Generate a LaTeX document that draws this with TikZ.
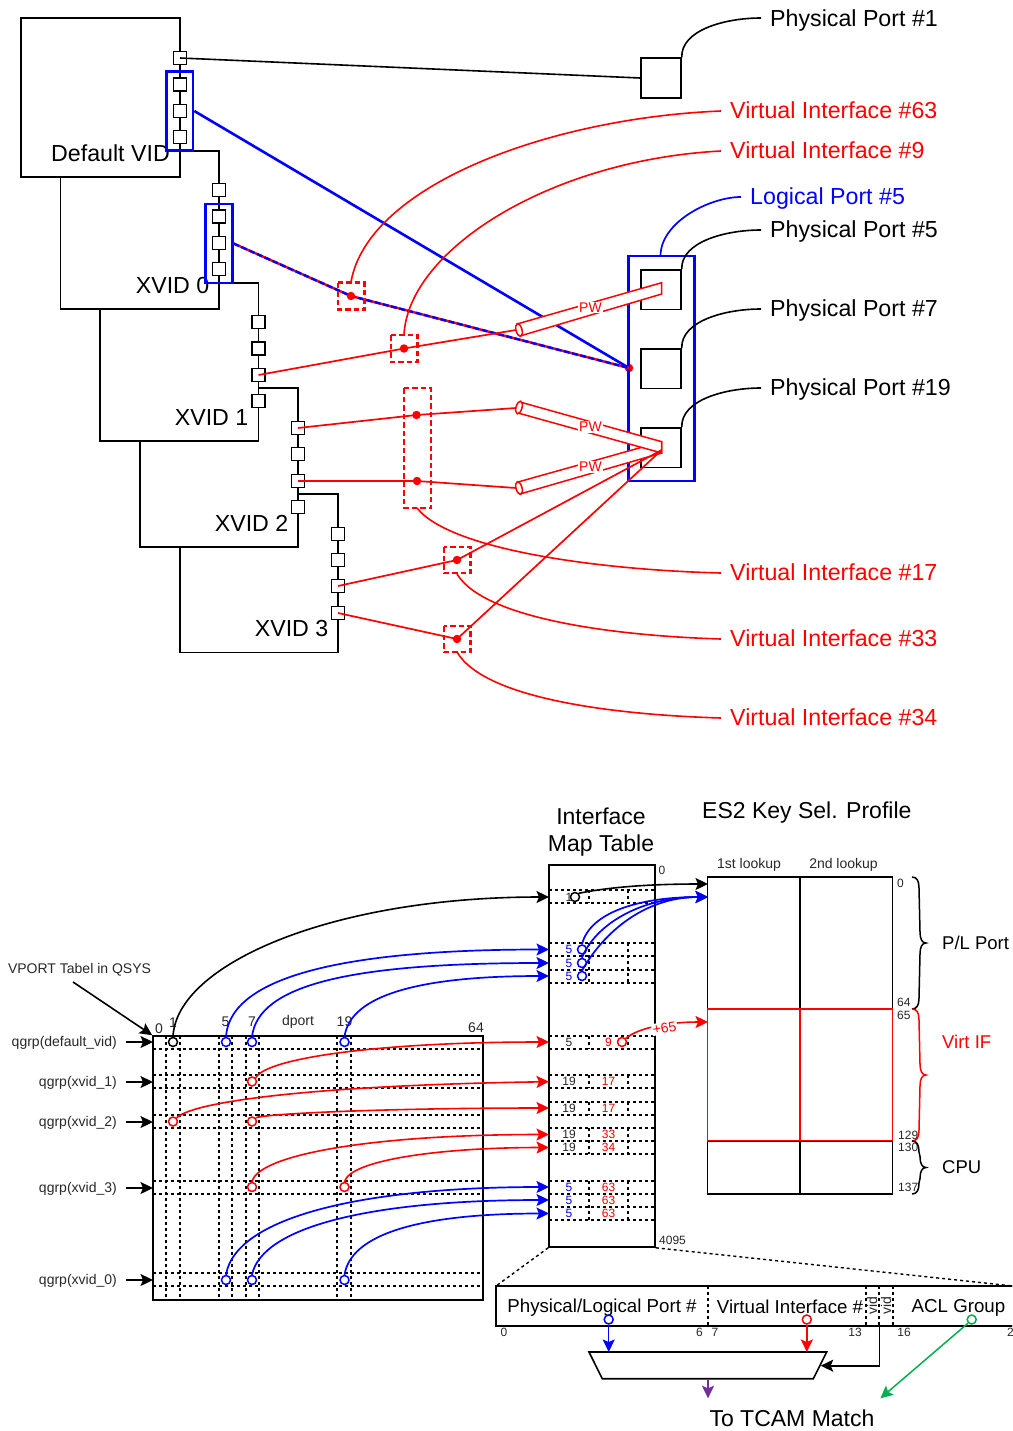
\documentclass[tikz,border=0pt]{standalone}
\usepackage{fontspec}
\setmainfont{Liberation Sans}
\usetikzlibrary{arrows.meta,calc}
\definecolor{pred}{RGB}{255,0,0}
\definecolor{pblue}{RGB}{0,0,255}
\definecolor{pgreen}{RGB}{0,176,80}
\definecolor{ppurple}{RGB}{112,48,160}
\definecolor{dtext}{RGB}{40,40,40}
\tikzset{
  blk/.style={draw=black,line width=1.6pt},
  sq/.style={draw=black,line width=1.6pt,fill=white,minimum size=13pt,inner sep=0pt},
  reddash/.style={draw=pred,line width=2.8pt,dash pattern=on 5.5pt off 3pt},
  dot/.style={circle,fill=pred,minimum size=8.5pt,inner sep=0pt},
  ringn/.style={circle,draw=#1,line width=1.5pt,minimum size=9pt,inner sep=0pt},
  big/.style={font=\fontsize{23}{27}\selectfont,inner sep=0pt},
  bigm/.style={font=\fontsize{23.2}{27}\selectfont,inner sep=0pt,yshift=-6pt},
  mid18/.style={font=\fontsize{18.5}{22}\selectfont,inner sep=0pt,yshift=-4pt},
  mid19/.style={font=\fontsize{18.7}{23}\selectfont,inner sep=0pt},
  sm14/.style={font=\fontsize{14}{16}\selectfont,inner sep=0pt,text=dtext,yshift=-1pt},
  sm14m/.style={font=\fontsize{14}{16}\selectfont,inner sep=0pt,text=dtext,yshift=-2pt},
  sm12/.style={font=\fontsize{12}{14}\selectfont,inner sep=0pt,text=dtext},
  sm12m/.style={font=\fontsize{12}{14}\selectfont,inner sep=0pt,text=dtext,yshift=-2pt},
  rline/.style={draw=pred,line width=1.7pt},
  curveb/.style={draw=black,line width=1.6pt},
  curver/.style={draw=pred,line width=1.6pt},
  curvel/.style={draw=pblue,line width=1.7pt},
  tipk/.style={-{Stealth[length=12.5pt,width=12pt,inset=2.5pt]}},
  griddash/.style={draw=black,line width=1.4pt,dash pattern=on 3pt off 3pt},
  pipe/.style={draw=pred,line width=1.5pt,fill=white},
  pwlab/.style={font=\fontsize{14}{16}\selectfont,text=pred,fill=white,inner sep=1pt},
}
\newcommand{\vbrace}[3]{%
  \pgfmathsetmacro{\ymid}{(#1+#2)/2}%
  \draw[draw=#3,line width=1.5pt] (912,#1) .. controls (917,#1) and (919,#1+4) .. (919,#1+11)
    -- (920,\ymid-11) .. controls (920,\ymid-4) and (922,\ymid) .. (926,\ymid)
    .. controls (922,\ymid) and (920,\ymid+4) .. (920,\ymid+11)
    -- (919,#2-11) .. controls (919,#2-4) and (917,#2) .. (912,#2);}
\begin{document}
\begin{tikzpicture}[x=1pt,y=-1pt]
\clip (0,0) rectangle (1012,1431);
\fill[white] (0,0) rectangle (1012,1431);
%%%%% TOP PART: stacked VID boxes
\draw[blk] (21,18) rectangle (180,177);
\draw[blk] (60.5,177) -- (60.5,309) -- (219,309) -- (219,151) -- (193,151);
\draw[blk] (100,309) -- (100,441) -- (258.5,441) -- (258.5,283) -- (232,283);
\draw[blk] (140,441) -- (140,547) -- (298,547) -- (298,388) -- (258.5,388);
\draw[blk] (180,547) -- (180,652.5) -- (338,652.5) -- (338,494) -- (298,494);
\node[sq] (da) at (180,58) {};
\node[sq] (db) at (180,84.5) {};
\node[sq] (dc) at (180,111) {};
\node[sq] (dd) at (180,137) {};
\node[sq] (za) at (219,190) {};
\node[sq] (zb) at (219,216.5) {};
\node[sq] (zc) at (219,243) {};
\node[sq] (zd) at (219,269) {};
\node[sq] (oa) at (258.5,322) {};
\node[sq] (ob) at (258.5,348.5) {};
\node[sq] (oc) at (258.5,375) {};
\node[sq] (od) at (258.5,401) {};
\node[sq] (ta) at (298,428) {};
\node[sq] (tb) at (298,454) {};
\node[sq] (tc) at (298,481) {};
\node[sq] (td) at (298,507) {};
\node[sq] (ha) at (338,534) {};
\node[sq] (hb) at (338,560) {};
\node[sq] (hc) at (338,586) {};
\node[sq] (hd) at (338,613) {};
\node[bigm,anchor=mid east] (ldv) at (170,152.5) {Default VID};
\node[bigm,anchor=mid east] (lx0) at (209.5,284.5) {XVID 0};
\node[bigm,anchor=mid east] (lx1) at (248.5,416.5) {XVID 1};
\node[bigm,anchor=mid east] (lx2) at (288.5,522.5) {XVID 2};
\node[bigm,anchor=mid east] (lx3) at (328.5,627.5) {XVID 3};
\node[draw=pblue,line width=2.6pt,minimum width=26.5pt,minimum height=79pt,inner sep=0pt] (bga) at (179.75,111) {};
\node[draw=pblue,line width=2.6pt,minimum width=26.5pt,minimum height=79pt,inner sep=0pt] (bgb) at (219,243.5) {};
%%%%% physical ports
\node[draw=black,line width=1.5pt,minimum width=40pt,minimum height=40pt,inner sep=0pt,fill=white] (p1) at (661,78) {};
\node[draw=black,line width=1.5pt,minimum width=40pt,minimum height=39.5pt,inner sep=0pt,fill=white] (p5) at (661,289.5) {};
\node[draw=black,line width=1.5pt,minimum width=40pt,minimum height=39.5pt,inner sep=0pt,fill=white] (p7) at (661,368.5) {};
\node[draw=black,line width=1.5pt,minimum width=40pt,minimum height=39.5pt,inner sep=0pt,fill=white] (p19) at (661,447.5) {};
\node[dot] (hub) at (629,368) {};
\node[draw=pblue,line width=2.6pt,minimum width=65.5pt,minimum height=225pt,inner sep=0pt] (lag) at (661.5,368.5) {};
\draw[curveb] (da.center) -- (p1.west);
\foreach \nm/\txt/\yy in {n1/{Physical Port \#1}/18, n5/{Physical Port \#5}/229, n7/{Physical Port \#7}/308, n19/{Physical Port \#19}/387}{
  \node[bigm,anchor=mid west] (\nm) at (770,\yy) {\txt};
}
\coordinate (e1) at (761,18);\coordinate (e5) at (761,230);\coordinate (e7) at (761,309);\coordinate (e19) at (761,388);
\draw[curveb] (p1.north east) .. controls (681,30) and (725,18) .. (e1);
\draw[curveb] (p5.north east) .. controls (681,242) and (725,230) .. (e5);
\draw[curveb] (p7.north east) .. controls (681,321) and (725,309) .. (e7);
\draw[curveb] (p19.north east) .. controls (681,400) and (725,388) .. (e19);
\node[bigm,anchor=mid west,text=pblue] (nlp) at (750,196) {Logical Port \#5};
\coordinate (elp) at (741,197);
\draw[curvel] (660.5,256) .. controls (660.5,222) and (710,197) .. (elp);
%%%%% blue trunk lines
\coordinate (bend) at (351,296);
\draw[draw=pblue,line width=2.6pt] (bga.east) -- (hub.center);
\draw[draw=pred,line width=2.4pt] (bgb.east) -- (bend) -- (hub.center);
\draw[draw=pblue,line width=2.4pt,dash pattern=on 6pt off 2.5pt] (bgb.east) -- (bend) -- (hub.center);
%%%%% PW tunnels
\draw[pipe] (518,482) -- (661.7,441.7) -- (661.7,453) -- (520,494) -- cycle;
\draw[pipe,rotate around={15:(519,488)}] (519,488) ellipse (3pt and 6.5pt);
\draw[pipe] (520,402) -- (661.7,441.7) -- (661.7,453) -- (518,413) -- cycle;
\draw[pipe,rotate around={-15:(519,407.5)}] (519,407.5) ellipse (3pt and 6.5pt);
\draw[pipe] (517,324) -- (661.7,282.7) -- (661.7,294) -- (520,336) -- cycle;
\draw[pipe,rotate around={15:(519,330)}] (519,330) ellipse (3pt and 6.5pt);
\node[pwlab] (pw1) at (590.5,307.5) {PW};
\node[pwlab] (pw2) at (590.5,427) {PW};
\node[pwlab] (pw3) at (590.5,467) {PW};
%%%%% virtual interfaces
\node[dot] (v63) at (351,296) {};
\node[dot] (v9) at (404,348.5) {};
\node[dot] (v17a) at (416.5,415) {};
\node[dot] (v17b) at (417,481) {};
\node[dot] (v33) at (457,560) {};
\node[dot] (v34) at (457,639) {};
\draw[reddash] (338,282.5) rectangle (364.5,309.5);
\draw[reddash] (391,335) rectangle (417.5,362);
\draw[reddash] (404,388) rectangle (431,508);
\draw[reddash] (444,547) rectangle (470.5,573);
\draw[reddash] (444,626) rectangle (470.5,652);
\coordinate (tipa) at (661.7,450);
\coordinate (pa) at (516,330);\coordinate (pb) at (516,408);\coordinate (pc) at (516,488);
\draw[rline] (oc.center) -- (v9.center) -- (pa);
\draw[rline] (ta.center) -- (v17a.center) -- (pb);
\draw[rline] (tc.center) -- (v17b.center) -- (pc);
\draw[rline] (hc.center) -- (v33.center) -- (tipa);
\draw[rline] (hd.center) -- (v34.center) -- (tipa);
\foreach \nm/\txt/\yy in {i63/{Virtual Interface \#63}/110, i9/{Virtual Interface \#9}/150, i17/{Virtual Interface \#17}/572, i33/{Virtual Interface \#33}/638, i34/{Virtual Interface \#34}/717}{
  \node[bigm,anchor=mid west,text=pred] (\nm) at (730,\yy) {\txt};
}
\coordinate (c63) at (721,111);\coordinate (c9) at (721,151);\coordinate (c17) at (721,573);\coordinate (c33) at (721,639);\coordinate (c34) at (721,718);
\draw[curver] (351,282) .. controls (368,185) and (550,118) .. (c63);
\draw[curver] (404,335) .. controls (408,250) and (550,160) .. (c9);
\draw[curver] (417,508) .. controls (450,550) and (600,570) .. (c17);
\draw[curver] (457,574) .. controls (485,620) and (620,636) .. (c33);
\draw[curver] (457,652) .. controls (485,700) and (620,715) .. (c34);
%%%%% VPORT TABLE
\foreach \yy in {1049,1075,1088,1115,1128,1181,1194,1273,1286}{
  \draw[griddash] (153,\yy) -- (483,\yy);
}
\foreach \xx in {166,180,219,232,246,259,337,351}{
  \draw[griddash] (\xx,1036) -- (\xx,1300);
}
\node[draw=black,line width=1.6pt,minimum width=330pt,minimum height=264pt,inner sep=0pt] (vt) at (318,1168) {};
\draw[griddash] (153,1036) -- (483,1036);
\node[sm14] (h0) at (159,1028) {0};
\node[sm14] (h1) at (173,1022) {1};
\node[sm14] (h5) at (225.5,1021) {5};
\node[sm14] (h7) at (252,1021) {7};
\node[sm14] (hdp) at (298,1021) {dport};
\node[sm14] (h19) at (344.5,1021) {19};
\node[sm14] (h64) at (476,1027) {64};
\node[sm14] (lvp) at (79.5,969) {VPORT Tabel in QSYS};
\coordinate (vpstart) at (73,982);
\draw[curveb,tipk] (vpstart) -- (vt.north west);
\foreach \nm/\txt/\yy in {q0/{qgrp(default\_vid)}/1042, q1/{qgrp(xvid\_1)}/1082, q2/{qgrp(xvid\_2)}/1122, q3/{qgrp(xvid\_3)}/1188, q4/{qgrp(xvid\_0)}/1280}{
  \node[sm14m,anchor=mid east] (\nm) at (117,\yy) {\txt};
  \coordinate (\nm s) at (126,\yy);
  \coordinate (\nm e) at (153,\yy);
  \draw[curveb,tipk] (\nm s) -- (\nm e);
}
%%%%% INTERFACE MAP TABLE
\foreach \yy in {890,903,943,956,970,983,1036,1049,1075,1088,1102,1115,1128,1141,1154,1181,1194,1207,1220}{
  \draw[griddash] (549,\yy) -- (655,\yy);
}
\foreach \ya/\yb in {890/903,943/983,1036/1049,1075/1088,1102/1115,1128/1154,1181/1220}{
  \draw[griddash] (589,\ya) -- (589,\yb);
  \draw[griddash] (628,\ya) -- (628,\yb);
}
\node[draw=black,line width=1.6pt,minimum width=106pt,minimum height=382pt,inner sep=0pt] (imt) at (602,1056) {};
\node[big,align=center] (limt) at (601,832) {Interface\\Map Table};
\node[big,anchor=mid west,yshift=-6pt] (les2) at (702,810) {ES2 Key Sel. Profile};
\node[sm12] (i0) at (662,870) {0};
\node[sm12] (i4095) at (672.5,1240) {4095};
\foreach \nm/\yy/\cc/\tt in {ra/949.5/pblue/5,rb/963/pblue/5,rc/976/pblue/5,rd/1042/dtext/5,re/1081.7/dtext/19,rf/1108/dtext/19,rg/1134/dtext/19,rh/1147/dtext/19,ri/1187/pblue/5,rj/1200/pblue/5,rk/1213.5/pblue/5}{
  \node[sm12,text=\cc] (\nm) at (569,\yy) {\tt};
}
\node[sm12] (r1) at (569,897) {1};
\foreach \nm/\yy/\tt in {sb/1081.7/17,sc/1108/17,sd/1134/33,se/1147/34,sf/1187/63,sg/1200/63,sh/1213.5/63}{
  \node[sm12,text=pred] (\nm) at (608.5,\yy) {\tt};
}
\node[sm12,text=pred] (sa) at (608.5,1042) {9};
%%%%% PROFILE
\node[draw=black,line width=1.6pt,minimum width=185pt,minimum height=317pt,inner sep=0pt] (prof) at (800,1035.5) {};
\draw[blk] (800,877) -- (800,1194);
\node[draw=pred,line width=1.6pt,minimum width=185pt,minimum height=132pt,inner sep=0pt] (virt) at (800,1075) {};
\draw[draw=pred,line width=1.6pt] (virt.north) -- (virt.south);
\draw[blk,line width=1pt] (707.5,1141) -- (892.5,1141);
\node[sm14] (l1) at (749,864) {1st lookup};
\node[sm14] (l2) at (843.5,864) {2nd lookup};
\foreach \nm/\xx/\yy/\tt in {k0/897/883/0,k64/897/1002/64,k65/897/1015/65,k129/898/1134.5/129,k130/898/1147/130,k137/898/1187/137}{
  \node[sm12m,anchor=mid west] (\nm) at (\xx,\yy) {\tt};
}
\vbrace{877}{1009}{black}
\vbrace{1009}{1141}{pred}
\vbrace{1141}{1194}{black}
\node[mid18,anchor=mid west] (bpl) at (942,943) {P/L Port};
\node[mid18,anchor=mid west,text=pred] (bvi) at (942,1042) {Virt IF};
\node[mid18,anchor=mid west] (bcp) at (942,1167) {CPU};
%%%%% rings and curves
\coordinate (t1) at (549,897);
\coordinate (ta5) at (549,949.5);\coordinate (tb5) at (549,963);\coordinate (tc5) at (549,976);
\coordinate (trd) at (549,1042);\coordinate (tre) at (549,1081.7);\coordinate (trf) at (549,1108);
\coordinate (trg) at (549,1134.5);\coordinate (trh) at (549,1147.5);
\coordinate (tri) at (549,1187);\coordinate (trj) at (549,1200);\coordinate (trk) at (549,1213.5);
\coordinate (pfk) at (708,884);\coordinate (pfb) at (708,897);\coordinate (pfr) at (708,1022);
\node[ringn=black] (ca) at (173,1042) {};
\node[ringn=pblue] (cb) at (226,1042) {};
\node[ringn=pblue] (cc) at (252,1042) {};
\node[ringn=pblue] (cd) at (344.5,1042) {};
\node[ringn=pred] (ce) at (252,1081.5) {};
\node[ringn=pred] (cf) at (173,1121.5) {};
\node[ringn=pred] (cg) at (252,1121.5) {};
\node[ringn=pred] (ch) at (252,1187) {};
\node[ringn=pred] (ci) at (344.5,1187) {};
\node[ringn=pblue] (cj) at (226,1280) {};
\node[ringn=pblue] (ck) at (252,1280) {};
\node[ringn=pblue] (cl) at (344.5,1280) {};
\node[ringn=black] (ma) at (575,897) {};
\node[ringn=pblue] (mb) at (582,949.5) {};
\node[ringn=pblue] (mc) at (582,963) {};
\node[ringn=pblue] (md) at (582,976) {};
\node[ringn=pred] (me) at (622,1042) {};
\draw[curveb,tipk] (ca.north) .. controls (176,965) and (330,897) .. (t1);
\draw[curvel,tipk] (cb.north) .. controls (230,975) and (350,949.5) .. (ta5);
\draw[curvel,tipk] (cc.north) .. controls (258,985) and (350,963) .. (tb5);
\draw[curvel,tipk] (cd.north) .. controls (350,995) and (420,976) .. (tc5);
\draw[curver,tipk] (ce.north east) .. controls (266,1058) and (380,1042) .. (trd);
\draw[curver,tipk] (cf.north east) .. controls (195,1100) and (330,1085) .. (tre);
\draw[curver,tipk] (cg.north east) .. controls (270,1113) and (400,1108) .. (trf);
\draw[curver,tipk] (ch.north) .. controls (258,1155) and (370,1134.5) .. (trg);
\draw[curver,tipk] (ci.north) .. controls (350,1160) and (440,1147.5) .. (trh);
\draw[curvel,tipk] (cj.north) .. controls (236,1215) and (370,1187) .. (tri);
\draw[curvel,tipk] (ck.north) .. controls (262,1227) and (370,1200) .. (trj);
\draw[curvel,tipk] (cl.north) .. controls (352,1228) and (440,1213.5) .. (trk);
\draw[curveb,tipk] (ma.north east) .. controls (610,887) and (650,884) .. (pfk);
\draw[curvel,tipk] (mb.north) .. controls (590,912) and (640,897) .. (pfb);
\draw[curvel,tipk] (mc.north) .. controls (595,925) and (640,897) .. (pfb);
\draw[curvel,tipk] (md.north) .. controls (600,938) and (640,897) .. (pfb);
\draw[curver,tipk] (me.north east) .. controls (640,1027) and (670,1022) .. (pfr);
\node[font=\fontsize{14}{16}\selectfont,text=pred,fill=white,inner sep=1pt,rotate=10] (p65) at (664.5,1028) {+65};
%%%%% FIELD
\coordinate (fr1) at (1013,1286);
\coordinate (fr2) at (1013,1326);
\draw[griddash] (imt.south west) -- (496,1286);
\draw[griddash] (imt.south east) -- (fr1);
\draw[blk] (1013,1286) -- (496,1286) -- (496,1326) -- (1013,1326);
\draw[griddash] (496,1286) -- (fr1);
\draw[griddash] (496,1326) -- (fr2);
\foreach \xx in {708,866,879,893}{
  \draw[griddash] (\xx,1286) -- (\xx,1326);
}
\node[mid19] (f1) at (602,1308) {Physical/Logical Port \#};
\node[mid19] (f2) at (790,1307) {Virtual Interface \#};
\node[mid19] (f3) at (958.5,1307.5) {ACL Group};
\node[sm14,rotate=90] (f4) at (872,1305) {vid};
\node[sm14,rotate=90] (f5) at (886,1305) {vid};
\foreach \nm/\xx/\tt in {g0/504/0,g6/699.5/6,g7/715/7,g13/855/13,g16/904/16,g2/1010.5/2}{
  \node[sm12] (\nm) at (\xx,1332) {\tt};
}
\node[ringn=pblue] (fb) at (608.7,1319.5) {};
\node[ringn=pred] (fr) at (806.8,1319.5) {};
\node[ringn=pgreen] (fg) at (971.7,1319.5) {};
\coordinate (muxb) at (608.7,1352);
\coordinate (muxr) at (806.8,1352);
\coordinate (muxv) at (820.7,1365.7);
\coordinate (muxd) at (708,1378.7);
\draw[blk,fill=white] (589,1352) -- (826.7,1352) -- (813.3,1378.7) -- (602.3,1378.7) -- cycle;
\draw[draw=pblue,line width=1.5pt,tipk] (fb.south) -- (muxb);
\draw[draw=pred,line width=1.5pt,tipk] (fr.south) -- (muxr);
\coordinate (vidb) at (879.4,1326);
\draw[curveb,tipk] (vidb) -- (879.4,1365.7) -- (muxv);
\coordinate (out) at (708,1398.3);
\draw[draw=ppurple,line width=1.5pt,tipk] (muxd) -- (out);
\coordinate (gout) at (880.4,1398.3);
\draw[draw=pgreen,line width=1.5pt,tipk] (fg.south west) -- (gout);
\node[big] (tt) at (792,1418) {To TCAM Match};
\end{tikzpicture}
\end{document}
